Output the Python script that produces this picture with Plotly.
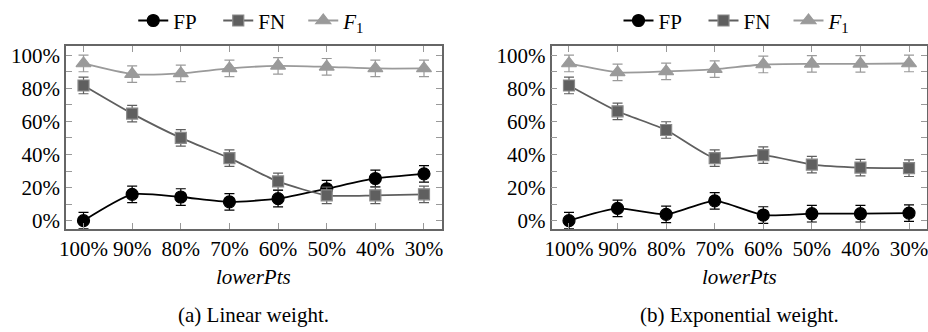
import plotly.graph_objects as go

categories = ["100%", "90%", "80%", "70%", "60%", "50%", "40%", "30%"]

# (a) Linear weight
lin_fp = [0.0, 15.9, 14.3, 11.4, 13.3, 19.3, 25.5, 28.3]
lin_fn = [81.7, 64.7, 50.0, 37.8, 23.7, 15.3, 15.3, 15.9]
lin_f1 = [95.0, 88.6, 89.0, 92.0, 93.6, 93.0, 92.0, 92.0]

# (b) Exponential weight
exp_fp = [0.0, 7.4, 3.8, 12.0, 3.4, 4.2, 4.2, 4.6]
exp_fn = [81.7, 66.1, 54.8, 37.8, 39.6, 33.9, 32.1, 31.7]
exp_f1 = [95.0, 89.6, 90.2, 91.6, 94.4, 94.8, 94.8, 95.0]

err = 5.0
y_ticks = [0, 10, 20, 30, 40, 50, 60, 70, 80, 90, 100]
y_tick_labels = ["0%", "", "20%", "", "40%", "", "60%", "", "80%", "", "100%"]

FONT = "Liberation Serif"
W, H = 928, 332

styles = {
    "FP": dict(color="#000000", symbol="circle", fill="#000000", border="#000000", size=12),
    "FN": dict(color="#5f5f5f", symbol="square", fill="#5f5f5f", border="#8a8a8a", size=11),
    "F1": dict(color="#9a9a9a", symbol="triangle-up", fill="#9a9a9a", border="#9a9a9a", size=13),
}
names = {"FP": "FP", "FN": "FN", "F1": "<i>F</i><sub>1</sub>"}

fig = go.Figure()

panels = [
    ("x", "y", "legend", {"FP": lin_fp, "FN": lin_fn, "F1": lin_f1}),
    ("x2", "y2", "legend2", {"FP": exp_fp, "FN": exp_fn, "F1": exp_f1}),
]
for xa, ya, lg, data in panels:
    for key in ["FP", "FN", "F1"]:
        s = styles[key]
        fig.add_trace(go.Scatter(
            x=list(range(len(categories))), y=data[key], xaxis=xa, yaxis=ya,
            mode="lines+markers", name=names[key], legend=lg,
            line=dict(color=s["color"], width=1.8, shape="spline", smoothing=0.6),
            marker=dict(symbol=s["symbol"], size=s["size"], color=s["fill"],
                        line=dict(color=s["border"], width=1.2)),
            error_y=dict(type="constant", value=err, color=s["color"], thickness=1.2, width=5),
        ))

def px_x(p):
    return p / W

def px_y(p):
    return 1 - p / H

dom_l = [px_x(66), px_x(441.5)]
dom_r = [px_x(551.5), px_x(926.5)]
dom_y = [px_y(228), px_y(43.5)]

xaxis_common = dict(
    range=[-0.36, 7.36], tickmode="array", tickvals=list(range(len(categories))),
    ticktext=categories, ticks="inside", ticklen=6, tickcolor="#999999", tickwidth=1,
    showline=True, linecolor="#666666", linewidth=1.5, mirror="ticks",
    showgrid=False, zeroline=False, tickfont=dict(family=FONT, size=21, color="#000"),
    fixedrange=True, automargin=False, ticklabeloverflow="allow",
)
yaxis_common = dict(
    range=[-5, 105.5], tickmode="array", tickvals=y_ticks, ticktext=y_tick_labels,
    ticks="inside", ticklen=6, tickcolor="#999999", tickwidth=1,
    showline=True, linecolor="#666666", linewidth=1.5, mirror="ticks",
    showgrid=False, zeroline=False, tickfont=dict(family=FONT, size=21, color="#000"),
    fixedrange=True, automargin=False, ticklabeloverflow="allow",
)

legend_common = dict(
    orientation="h", yanchor="middle", xanchor="center",
    font=dict(family=FONT, size=21, color="#000"), bgcolor="rgba(0,0,0,0)",
    itemclick=False, itemdoubleclick=False, tracegroupgap=0,
    entrywidth=40, entrywidthmode="pixels", itemwidth=30,
)

fig.update_layout(
    template="none",
    width=W, height=H, margin=dict(l=0, r=0, t=0, b=0),
    paper_bgcolor="white", plot_bgcolor="white", showlegend=True,
    xaxis=dict(domain=dom_l, anchor="y", **xaxis_common),
    yaxis=dict(domain=dom_y, anchor="x", **yaxis_common),
    xaxis2=dict(domain=dom_r, anchor="y2", **xaxis_common),
    yaxis2=dict(domain=dom_y, anchor="x2", **yaxis_common),
    legend=dict(x=(dom_l[0] + dom_l[1]) / 2 + px_x(7), y=px_y(18), **legend_common),
    legend2=dict(x=(dom_r[0] + dom_r[1]) / 2 + px_x(7), y=px_y(18), **legend_common),
    font=dict(family=FONT, size=21, color="#000"),
)

annotations = [
    dict(text="<i>lowerPts</i>", x=(dom_l[0] + dom_l[1]) / 2, y=px_y(277)),
    dict(text="<i>lowerPts</i>", x=(dom_r[0] + dom_r[1]) / 2, y=px_y(277)),
    dict(text="(a) Linear weight.", x=(dom_l[0] + dom_l[1]) / 2, y=px_y(315)),
    dict(text="(b) Exponential weight.", x=(dom_r[0] + dom_r[1]) / 2, y=px_y(315)),
]
for a in annotations:
    fig.add_annotation(xref="paper", yref="paper", xanchor="center", yanchor="middle",
                       showarrow=False, font=dict(family=FONT, size=21, color="#000"), **a)

fig.write_html("out.html", config={"displayModeBar": False},
               post_script="document.body.style.margin='0';")
